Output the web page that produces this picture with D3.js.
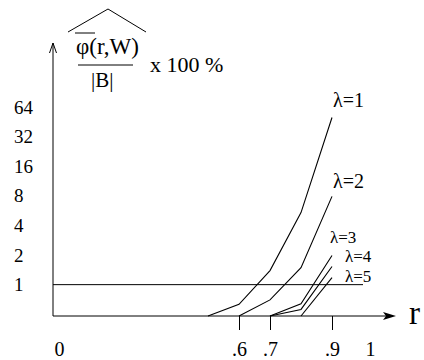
<!DOCTYPE html>
<meta charset="utf-8">
<style>
body { margin: 0; background: #fff; }
svg text { font-family: "Liberation Serif", "Times New Roman", "DejaVu Serif", serif; fill: #000; }
.tick line { stroke: #000; }
</style>
<svg width="424" height="360"></svg>
<script src="https://d3js.org/d3.v7.min.js"></script>
<script>

// r values where the curves have their corners
var rValues = [0.5, 0.6, 0.7, 0.8, 0.9];

// % values per lambda (0 = lies on the r axis, null = no point)
var lambda1 = [0, 0.63, 1.39, 5.4, 50];
var lambda2 = [null, 0, 0.70, 1.49, 7.9];
var lambda3 = [null, null, 0, 0.64, 1.98];
var lambda4 = [null, null, 0, 0.56, 1.53];
var lambda5 = [null, null, null, 0, 1.18];

var seriesNames = ["λ=1", "λ=2", "λ=3", "λ=4", "λ=5"];
var yTicks = [1, 2, 4, 8, 16, 32, 64];
var xTicks = [0, 0.6, 0.7, 0.9, 1];
var xTickLabels = ["0", ".6", ".7", ".9", "1"];
var refLevel = [1];

var serif = '"Liberation Serif", "Times New Roman", "DejaVu Serif", serif';
var svg = d3.select("svg").attr("font-family", serif);

var x = d3.scaleLinear().domain([0, 1]).range([53, 363]);
var y = d3.scaleLog().base(2).domain([0.48, 64]).range([316, 107]);
var yv = function(v) { return v > 0 ? y(v) : y.range()[0]; };

// axes lines with arrows
svg.append("line").attr("x1", 53).attr("y1", 316).attr("x2", 53).attr("y2", 43)
    .attr("stroke", "#000");
svg.append("path").attr("d", "M49.5,53 L53,43 L56.5,53")
    .attr("fill", "none").attr("stroke", "#000");
svg.append("line").attr("x1", 53).attr("y1", 316).attr("x2", 393).attr("y2", 316)
    .attr("stroke", "#000");
svg.append("path").attr("d", "M383,312 L396,316 L383,320 L386,316 Z")
    .attr("fill", "#000");
svg.append("text").attr("x", 409).attr("y", 324).text("r").style("font-size", "33px");

// x axis ticks
var xAxis = svg.append("g").attr("transform", "translate(0,316)")
    .call(d3.axisBottom(x).tickValues(xTicks).tickSize(14).tickPadding(12)
      .tickFormat(function(d, i) { return xTickLabels[i]; }));
xAxis.attr("font-family", serif).attr("font-size", null);
xAxis.select(".domain").remove();
xAxis.selectAll(".tick").filter(function(d) { return d === 0 || d === 1; })
    .select("line").remove();
xAxis.selectAll("text").style("font-size", "20px");
xAxis.selectAll(".tick text").filter(function(d) { return d === 0; }).attr("dx", 6);
xAxis.selectAll(".tick text").filter(function(d) { return d === 1; }).attr("dx", 7);

// y axis labels
var yAxis = svg.append("g").attr("transform", "translate(53,0)")
    .call(d3.axisLeft(y).tickValues(yTicks).tickSize(0).tickFormat(d3.format("d")));
yAxis.attr("font-family", serif).attr("font-size", null);
yAxis.select(".domain").remove();
yAxis.selectAll("text").attr("x", -39).attr("text-anchor", "start")
    .style("font-size", "19px");

// reference line at 1
svg.selectAll(".ref").data(refLevel).enter().append("line")
    .attr("x1", x(0)).attr("x2", x(1))
    .attr("y1", function(d) { return y(d); }).attr("y2", function(d) { return y(d); })
    .attr("stroke", "#000");

// curves
var allSeries = [lambda1, lambda2, lambda3, lambda4, lambda5];
var line = d3.line()
    .defined(function(d) { return d.v !== null; })
    .x(function(d) { return x(d.r); })
    .y(function(d) { return yv(d.v); });

var labelOffsets = [[1, -11], [1, -8], [-2, -12], [13, -4], [13, 4]];
var labelSizes = [20, 20, 17, 17, 17];

allSeries.forEach(function(s, i) {
  var pts = rValues.map(function(r, j) { return {r: r, v: s[j]}; });
  svg.append("path").attr("d", line(pts))
      .attr("fill", "none").attr("stroke", "#000").attr("stroke-width", 1.1);
  var last = pts[pts.length - 1];
  svg.append("text")
      .attr("x", x(last.r) + labelOffsets[i][0])
      .attr("y", yv(last.v) + labelOffsets[i][1])
      .text(seriesNames[i]).style("font-size", labelSizes[i] + "px");
});

// y axis title
svg.append("path").attr("d", "M68,32 L108,9 L146,32").attr("fill", "none").attr("stroke", "#000");
svg.append("line").attr("x1", 75).attr("x2", 95).attr("y1", 33).attr("y2", 33).attr("stroke", "#000");
svg.append("text").attr("x", 76).attr("y", 54).text("φ(r,W)").style("font-size", "23px");
svg.append("line").attr("x1", 78).attr("x2", 133).attr("y1", 65).attr("y2", 65).attr("stroke", "#000");
svg.append("text").attr("x", 91).attr("y", 87).text("|B|").style("font-size", "21px");
svg.append("text").attr("x", 150).attr("y", 72).text("x 100 %").style("font-size", "22px");

</script>
